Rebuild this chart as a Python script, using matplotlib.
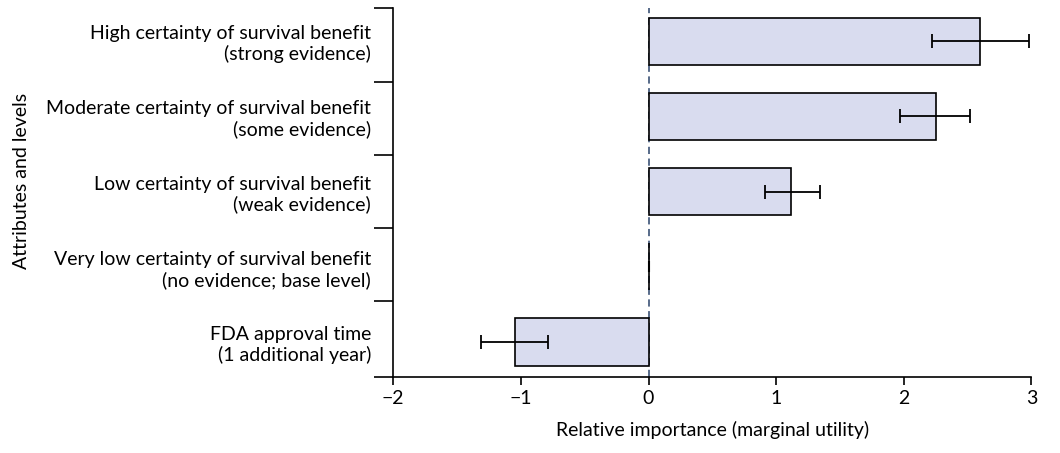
import matplotlib
matplotlib.use("Agg")
import matplotlib.pyplot as plt

plt.rcParams['font.family'] = ['Lato', 'DejaVu Sans']

labels = ["High certainty of survival benefit\n(strong evidence)",
          "Moderate certainty of survival benefit\n(some evidence)",
          "Low certainty of survival benefit\n(weak evidence)",
          "Very low certainty of survival benefit\n(no evidence; base level)",
          "FDA approval time\n(1 additional year)"]
values = [2.60, 2.25, 1.12, 0.0, -1.05]
err_low = [2.22, 1.97, 0.91, None, -1.31]
err_high = [2.98, 2.52, 1.34, None, -0.79]

fig = plt.figure(figsize=(10.6, 4.53), dpi=100)
ax = fig.add_axes([0.371, 0.168, 0.602, 0.814])
ypos = list(range(len(labels)))[::-1]
ax.barh(ypos, values, height=0.63, color='#d9dcef', edgecolor='black', linewidth=1.2, zorder=2)
for y, v, lo, hi in zip(ypos, values, err_low, err_high):
    if lo is None:
        continue
    ax.errorbar([v], [y], xerr=[[v - lo], [hi - v]], fmt='none', ecolor='black',
                elinewidth=1.3, capsize=5, capthick=1.3, zorder=3)
ax.axvline(0, color='#4a5f80', linestyle=(0, (4, 2.5)), linewidth=1.3, zorder=1)
ax.plot([0, 0], [ypos[3] - 0.06, ypos[3] + 0.06], color='black', lw=1.5, zorder=3)
ax.set_xlim(-2, 3)
ax.set_ylim(-0.465, 4.44)
ax.set_xticks([-2, -1, 0, 1, 2, 3])
ax.set_xticklabels(['\u22122', '\u22121', '0', '1', '2', '3'], fontsize=14)
ax.set_yticks([3.455, 2.485, 1.515, 0.545, 4.44, -0.465])
ax.set_yticklabels([])
ax.set_yticks(ypos, minor=True)
ax.set_yticklabels(labels, minor=True, fontsize=14, ha='right', multialignment='right')
ax.tick_params(axis='y', which='minor', length=0, pad=16)
ax.tick_params(axis='y', which='major', length=14, width=1.2)
ax.tick_params(axis='x', length=6, width=1.2)
for s in ['top', 'right']:
    ax.spines[s].set_visible(False)
for s in ['left', 'bottom']:
    ax.spines[s].set_linewidth(1.2)
ax.set_xlabel('Relative importance (marginal utility)', fontsize=14, labelpad=10)
fig.text(0.012, 0.6, 'Attributes and levels', rotation=90, fontsize=14, va='center', ha='left')
fig.savefig('out.png', dpi=100)
